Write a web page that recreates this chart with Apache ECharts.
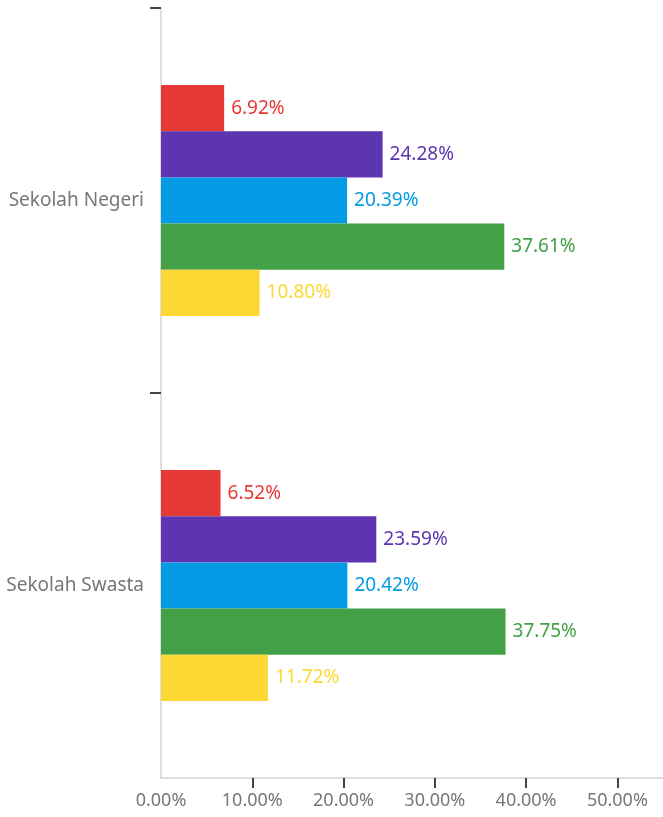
<!DOCTYPE html>
<html>
<head>
<meta charset="utf-8">
<script src="https://cdn.jsdelivr.net/npm/echarts@6/dist/echarts.min.js"></script>
<style>
  html, body { margin: 0; padding: 0; background: #fff; }
  #chart { width: 663px; height: 817px; }
</style>
</head>
<body>
<div id="chart"></div>
<script>
// kategori sekolah
const categories = ['Sekolah Negeri', 'Sekolah Swasta']
// nilai per seri (persen)
const seriesRed = [6.92, 6.52]
const seriesPurple = [24.28, 23.59]
const seriesBlue = [20.39, 20.42]
const seriesGreen = [37.61, 37.75]
const seriesYellow = [10.80, 11.72]
const tickValues = [0, 10, 20, 30, 40, 50]
const tickLabels = ['0.00%', '10.00%', '20.00%', '30.00%', '40.00%', '50.00%']

const colors = ['#E53935', '#5E35B1', '#039BE5', '#43A047', '#FDD835']
const allData = [seriesRed, seriesPurple, seriesBlue, seriesGreen, seriesYellow]

let myChart = echarts.init(document.getElementById('chart'))

let series = []
for (let i = 0; i < allData.length; i++) {
  series.push({
    type: 'bar',
    data: allData[i],
    barGap: 0,
    barCategoryGap: '40%',
    itemStyle: { color: colors[i] },
    label: {
      show: true,
      position: 'right',
      distance: 7,
      color: colors[i],
      fontFamily: 'Noto Sans',
      fontSize: 19,
      formatter: (p) => p.value.toFixed(2) + '%'
    }
  })
}

let option = {
  animation: false,
  backgroundColor: '#fff',
  grid: { left: 161, width: 505, top: 8, bottom: 39 },
  xAxis: {
    type: 'value',
    min: 0,
    max: 55,
    interval: 10,
    splitLine: { show: false },
    axisLine: { show: true, onZero: false, lineStyle: { color: '#d4d4d4', width: 1.5 } },
    axisTick: { show: true, length: 10, customValues: [10, 20, 30, 40, 50], lineStyle: { color: '#444', width: 2 } },
    axisLabel: {
      margin: 14,
      color: '#777',
      fontFamily: 'Noto Sans',
      fontSize: 18,
      customValues: tickValues,
      formatter: (v) => tickLabels[tickValues.indexOf(v)] || ''
    }
  },
  yAxis: [
    {
      type: 'category',
      data: categories,
      inverse: true,
      axisLine: { show: true, onZero: false, lineStyle: { color: '#d4d4d4', width: 1.5 } },
      axisTick: { show: false },
      axisLabel: {
        margin: 17,
        color: '#777',
        fontFamily: 'Noto Sans',
        fontSize: 19
      }
    },
    {
      // hanya untuk garis tick di batas kategori (atas & tengah)
      type: 'value',
      position: 'left',
      offset: 0,
      min: 0,
      max: 2,
      interval: 1,
      inverse: true,
      splitLine: { show: false },
      axisLine: { show: false, onZero: false },
      axisLabel: { show: false },
      axisTick: { show: true, length: 11, customValues: [0, 1], lineStyle: { color: '#444', width: 2 } }
    }
  ],
  series: series
}

myChart.setOption(option)
</script>
</body>
</html>
